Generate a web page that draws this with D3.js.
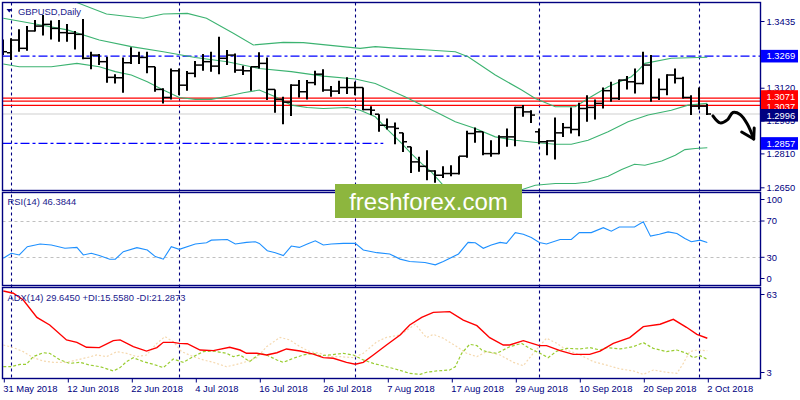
<!DOCTYPE html>
<html><head><meta charset="utf-8">
<script src="https://cdn.jsdelivr.net/npm/d3@7"></script>
<style>body{margin:0;background:#fff}svg{display:block}text{font-family:"Liberation Sans",Arial,sans-serif}</style>
</head><body><svg id="c" width="800" height="400"></svg>
<script>
// ---------- DATA ----------
const symbolTitle = "GBPUSD,Daily";
const dateIdx = [0,8,16,24,32,40,48,56,64,72,80,88];
const dateLabels = ["31 May 2018","12 Jun 2018","22 Jun 2018","4 Jul 2018","16 Jul 2018","26 Jul 2018","7 Aug 2018","17 Aug 2018","29 Aug 2018","10 Sep 2018","20 Sep 2018","2 Oct 2018"];
const monthGridIdx = [1,22,44,67,87];
const priceTicks = [1.3435,1.3120,1.2965,1.2810,1.2650];

const opens  = [1.3298,1.3285,1.3345,1.3306,1.3388,1.3411,1.3419,1.3400,1.3380,1.3377,1.3372,1.3259,1.3274,1.3243,1.3169,1.3167,1.3238,1.3270,1.3263,1.3219,1.3112,1.3074,1.3200,1.3132,1.3188,1.3227,1.3243,1.3222,1.3259,1.3274,1.3203,1.3200,1.3219,1.3235,1.3112,1.3065,1.3052,1.3132,1.3101,1.3144,1.3184,1.3109,1.3104,1.3121,1.3121,1.3121,1.3017,1.2995,1.2943,1.2935,1.2907,1.2841,1.2770,1.2749,1.2727,1.2707,1.2715,1.2715,1.2797,1.2904,1.2912,1.2809,1.2809,1.2888,1.2888,1.3027,1.3006,1.2912,1.2865,1.2869,1.2907,1.2932,1.2923,1.3022,1.3027,1.3046,1.3106,1.3069,1.3156,1.3148,1.3140,1.3227,1.3074,1.3112,1.3180,1.3164,1.3074,1.3033,1.3033];
const highs  = [1.3348,1.3353,1.3396,1.3411,1.3440,1.3463,1.3437,1.3440,1.3421,1.3388,1.3445,1.3290,1.3279,1.3266,1.3184,1.3263,1.3311,1.3290,1.3290,1.3219,1.3117,1.3211,1.3211,1.3199,1.3246,1.3279,1.3290,1.3361,1.3298,1.3282,1.3224,1.3219,1.3287,1.3263,1.3112,1.3077,1.3137,1.3156,1.3156,1.3200,1.3207,1.3128,1.3153,1.3169,1.3148,1.3121,1.3033,1.2995,1.2975,1.2956,1.2907,1.2841,1.2794,1.2825,1.2731,1.2749,1.2754,1.2797,1.2917,1.2932,1.2912,1.2872,1.2896,1.2928,1.3030,1.3038,1.3014,1.2928,1.2872,1.2980,1.2954,1.3027,1.3049,1.3085,1.3065,1.3121,1.3148,1.3159,1.3175,1.3211,1.3290,1.3274,1.3164,1.3184,1.3211,1.3172,1.3085,1.3121,1.3043];
const lows   = [1.3274,1.3251,1.3290,1.3295,1.3385,1.3366,1.3348,1.3337,1.3337,1.3301,1.3255,1.3207,1.3227,1.3144,1.3140,1.3096,1.3232,1.3232,1.3188,1.3101,1.3046,1.3065,1.3085,1.3106,1.3169,1.3200,1.3196,1.3184,1.3227,1.3191,1.3180,1.3106,1.3211,1.3062,1.3002,1.2948,1.2986,1.3074,1.3065,1.3132,1.3101,1.3077,1.3090,1.3090,1.3085,1.3014,1.2991,1.2912,1.2923,1.2853,1.2817,1.2718,1.2723,1.2683,1.2671,1.2694,1.2702,1.2711,1.2790,1.2860,1.2801,1.2794,1.2806,1.2841,1.2844,1.2983,1.2954,1.2853,1.2801,1.2781,1.2888,1.2904,1.2891,1.2959,1.2970,1.3022,1.3054,1.3062,1.3112,1.3093,1.3137,1.3054,1.3062,1.3085,1.3140,1.3069,1.2991,1.3017,1.2991];
const closes = [1.3290,1.3345,1.3306,1.3388,1.3411,1.3419,1.3400,1.3380,1.3377,1.3372,1.3259,1.3274,1.3243,1.3169,1.3167,1.3238,1.3270,1.3263,1.3219,1.3112,1.3074,1.3200,1.3132,1.3188,1.3227,1.3243,1.3222,1.3259,1.3274,1.3203,1.3200,1.3219,1.3235,1.3112,1.3065,1.3052,1.3132,1.3101,1.3144,1.3184,1.3109,1.3104,1.3121,1.3121,1.3121,1.3017,1.3014,1.2943,1.2935,1.2928,1.2865,1.2770,1.2749,1.2727,1.2707,1.2715,1.2715,1.2797,1.2904,1.2912,1.2809,1.2809,1.2888,1.2888,1.3027,1.3006,1.2991,1.2865,1.2869,1.2907,1.2932,1.2923,1.3022,1.3027,1.3046,1.3106,1.3069,1.3156,1.3148,1.3140,1.3227,1.3074,1.3112,1.3180,1.3164,1.3074,1.3033,1.3033,1.2996];

const bbUpIdx = [0,4,8,9.2,12.9,17.5,20,23,25.4,28.75,31.25,35,37.5,44.6,46.5,49.4,53.1,56.5,58.1,61.5,64.8,66.5,69,71.5,73.1,75.6,78.5,79.4,80.2,83.5,88];
const bbUp    = [1.3664,1.3623,1.3537,1.3522,1.3468,1.3448,1.3468,1.3471,1.3448,1.3377,1.3322,1.3334,1.3333,1.3306,1.3314,1.3306,1.3298,1.3290,1.3266,1.3180,1.3109,1.3069,1.3030,1.3030,1.3069,1.3125,1.3172,1.3203,1.3235,1.3259,1.3264];
const bbMidIdx = [0,4,8,12,16,20,24,28,32,36,40,44,46.5,50.2,52.3,54.4,56.5,59,61.5,64,66.9,69,71,73.1,75.6,78.1,80.6,83.5,85.6,88];
const bbMid    = [1.3448,1.3421,1.3393,1.3345,1.3314,1.3290,1.3263,1.3243,1.3211,1.3196,1.3175,1.3161,1.3140,1.3077,1.3038,1.2999,1.2959,1.2928,1.2888,1.2872,1.2860,1.2853,1.2853,1.2872,1.2912,1.2959,1.2991,1.3014,1.3038,1.3046];
const bbLowIdx = [0,2,6,9.2,12,14,16,18,20,22,24,26,28,30,32,34,36,38,40,43,44.6,46.5,48.1,49.8,51,52.3,53.5,54.8,57,60,63,64.8,66.5,69,71.5,73.1,75.6,77.3,78.9,80.2,82.3,84,85.2,86.5,88];
const bbLow    = [1.3232,1.3219,1.3219,1.3235,1.3219,1.3196,1.3180,1.3148,1.3109,1.3074,1.3065,1.3065,1.3080,1.3096,1.3109,1.3077,1.3038,1.3027,1.3022,1.3027,1.3014,1.2983,1.2920,1.2857,1.2809,1.2762,1.2723,1.2667,1.2589,1.2557,1.2589,1.2639,1.2660,1.2668,1.2668,1.2675,1.2702,1.2734,1.2759,1.2754,1.2774,1.2801,1.2828,1.2833,1.2837];

const hLevelsRed = [1.3057,1.3071,1.3037];
const levelHigh = 1.3269;
const levelLow = 1.2857;
const levelLowSolidFrom = 47.5;
const bidPrice = 1.2996;

const rsiTitle = "RSI(14) 46.3844";
const rsiTicks = [100,70,30,0];
const rsiLevels = [70,30];
const rsiIdx = [0,1,2,3,4.6,6,7.7,9.2,10,11,12,13.3,14,15,16.7,18,19,20,21,22,24,25.4,26,28,29,30.4,31.5,32,33,34,35,36,37,38,39,40,41,42.5,44,45,46.7,48.3,49.6,50.8,52.7,54,55,56.9,58.1,59,60,61,62.1,62.9,64,65,66,67,67.9,69.6,71,72,73.5,75,76,77,78.9,80,80.9,82,83.1,84.2,85.2,86,87.1,88];
const rsiVal = [29.0,34.4,32.6,41.7,44.6,43.5,39.9,40.9,32.6,34.4,31.9,27.9,27.9,36.2,40.6,38.0,30.8,27.9,41.7,38.8,44.6,46.0,48.9,49.6,44.6,46.4,47.1,45.3,37.3,35.1,31.9,42.4,40.9,44.6,48.2,43.5,44.6,45.3,45.3,38.0,35.1,33.7,28.0,25.4,24.3,21.7,25.4,33.7,46.4,46.0,39.9,43.5,46.4,45.3,57.2,55.4,51.8,46.4,44.6,49.6,49.6,57.2,57.2,62.7,58.7,63.4,63.4,69.2,53.3,55.4,58.0,56.2,50.7,47.1,48.9,46.4];

const adxTitle = "ADX(14) 29.6450 +DI:15.5580 -DI:21.2873";
const adxTicks = [63,3];
const adxIdx = [0,1.25,2.5,4.2,5.8,7.9,9.2,10.4,12,13.75,14.6,16.25,17.9,19.2,20,21.25,22,23,24.6,26.25,28.3,29.6,30.4,31.7,32.9,34.2,35.4,37.1,38.75,40,41.25,42.9,44,45,46.25,47.9,49.6,50.8,52.3,53.75,55.8,57.5,59.2,60.8,62.5,63.3,65,67,67.9,69.6,71.25,73.3,74.6,76.25,78.3,80,82.1,83.75,85.4,86.7,88];
const adxVal = [61.0,59.5,55.0,43.5,38.4,28.5,26.9,23.6,23.4,28.0,28.5,24.0,21.1,23.4,26.9,26.9,26.2,26.0,21.8,21.4,23.6,21.8,19.6,19.6,18.5,20.0,22.5,21.1,19.1,16.7,16.3,13.6,12.3,13.6,18.5,25.1,31.8,38.4,43.5,46.8,47.3,41.7,38.0,30.0,25.1,25.1,28.0,24.7,24.7,21.4,18.9,18.9,21.1,26.2,30.0,37.3,38.9,42.2,36.9,32.2,29.6];
const pdiIdx = [0,1,2.1,2.9,3.75,5,5.8,7.1,8.3,9.6,10.8,12.1,13.75,14.6,15.4,16.25,17.5,18.75,20,21.25,22.5,23.75,25,26.25,27.9,28.75,29.6,30.8,32.1,32.9,34.2,35,36.25,37.5,38.75,39.6,40.8,42.5,43.75,45,46.25,47.9,49.6,50.8,52.1,52.9,54.2,55.8,56.5,57.3,58.3,59.2,59.8,60.4,61.7,63.3,64.8,65.8,67.1,68.1,69.2,70.4,72.1,73.3,74.6,75.4,77.1,78.75,80,81.25,82.9,84.2,85.4,86.25,87.1,88];
const pdiVal = [10.7,10.7,12.3,12.3,17.4,20.0,19.6,15.2,12.9,13.6,11.8,10.7,7.9,10.1,14.1,16.7,14.1,12.3,10.1,15.8,13.6,17.4,20.7,21.1,19.6,17.4,18.5,14.1,19.6,18.5,15.2,13.6,16.3,18.5,19.6,18.0,18.5,19.6,18.5,15.2,12.9,10.7,8.3,6.3,5.6,7.0,7.9,8.5,10.7,19.6,25.6,24.7,21.8,20.7,19.6,24.0,26.2,22.9,19.6,16.7,21.1,22.9,22.5,23.4,21.8,23.4,22.5,24.0,26.7,22.9,20.7,21.8,19.6,16.7,18.0,15.6];
const mdiIdx = [0,1.25,2.5,3.75,5,6.25,7.9,9.2,10.4,11.7,12.9,14.2,15.4,16.7,17.9,19.2,20.2,21.25,22.3,23.75,25,26.25,27.9,29.2,30.4,31.7,32.9,34.6,35.8,37.1,38.3,39.6,40.8,42.1,43.75,45,46.7,47.9,49.6,51.5,52.9,53.75,55,56.7,57.9,59.2,60.4,62.1,63.75,65,66.25,67.9,69.2,70.4,72.1,73.75,75.4,77.1,78.75,80,81.25,82.9,84.2,85,85.8,86.7,88];
const mdiVal = [25.1,23.4,20.7,16.7,14.5,13.6,13.6,15.2,16.7,18.5,17.4,20.7,19.6,17.4,18.5,26.2,30.7,27.3,20.7,17.4,15.2,13.6,10.7,12.3,14.1,16.7,24.0,30.2,28.5,24.0,20.7,19.6,17.4,17.4,16.7,19.6,27.3,30.2,31.8,38.9,30.0,32.2,29.6,24.0,19.6,17.4,20.7,18.5,13.6,11.4,19.6,29.6,26.2,21.8,18.5,14.1,11.8,9.2,7.9,5.6,8.5,7.0,6.3,12.9,20.7,21.8,21.3];

const arrowIdx   = [88.7,89.6,90.5,91.2,92.1,93.0,93.8];
const arrowPrice = [1.2987,1.2954,1.2968,1.3003,1.2994,1.2949,1.2878];
const watermark = "freshforex.com";

// ---------- DRAW ----------
const svg = d3.select('#c');
const NAVY = '#000080';
const FS = 9.4;
const L = 2.5, R = 760.5;
const mainT = 2.5, mainB = 190.5, rsiT = 192.5, rsiB = 285.5, adxT = 287.5, adxB = 378.5;

const x  = d3.scaleLinear().domain([0, 88]).range([3.3, 707.3]);
const y  = d3.scaleLinear().domain([1.2650, 1.3435]).range([187.3, 21]);
const yr = d3.scaleLinear().domain([30, 70]).range([257.3, 221]);
const ya = d3.scaleLinear().domain([3, 63]).range([378.3, 288]);

const defs = svg.append('defs');
defs.append('clipPath').attr('id','clipMain').append('rect')
  .attr('x', L+0.5).attr('y', mainT+0.5).attr('width', R-L-1).attr('height', mainB-mainT-1);
defs.append('clipPath').attr('id','clipRsi').append('rect')
  .attr('x', L+0.5).attr('y', rsiT+0.5).attr('width', R-L-1).attr('height', rsiB-rsiT-1);
defs.append('clipPath').attr('id','clipAdx').append('rect')
  .attr('x', L+0.5).attr('y', adxT+0.5).attr('width', R-L-1).attr('height', adxB-adxT-1);
const f = defs.append('filter').attr('id','shadow').attr('x','-5%').attr('y','-200%').attr('width','110%').attr('height','500%');
f.append('feGaussianBlur').attr('in','SourceAlpha').attr('stdDeviation',2.2).attr('result','b');
f.append('feOffset').attr('in','b').attr('dy',3.5).attr('result','o');
f.append('feComponentTransfer').attr('in','o').attr('result','s').append('feFuncA').attr('type','linear').attr('slope',0.45);
const fm = f.append('feMerge'); fm.append('feMergeNode').attr('in','s'); fm.append('feMergeNode').attr('in','SourceGraphic');

// vertical month grid
svg.append('g').selectAll('line').data(monthGridIdx).join('line')
  .attr('x1', d => Math.round(x(d))+0.5).attr('x2', d => Math.round(x(d))+0.5)
  .attr('y1', mainT).attr('y2', adxB)
  .attr('stroke', NAVY).attr('stroke-width', 1.1).attr('stroke-dasharray', '3,3');

const gm = svg.append('g').attr('clip-path','url(#clipMain)');

// bid line
gm.append('line').attr('x1', L).attr('x2', R).attr('y1', y(bidPrice)).attr('y2', y(bidPrice))
  .attr('stroke', '#cfcfcf').attr('stroke-width', 1);

// dash-dot levels
gm.append('line').attr('x1', L).attr('x2', R).attr('y1', y(levelHigh)).attr('y2', y(levelHigh))
  .attr('stroke', '#0000ff').attr('stroke-width', 1.2).attr('stroke-dasharray', '9,3,3,3');
gm.append('line').attr('x1', L).attr('x2', x(levelLowSolidFrom)).attr('y1', y(levelLow)).attr('y2', y(levelLow))
  .attr('stroke', '#0000ff').attr('stroke-width', 1.2).attr('stroke-dasharray', '9,3,3,3');
// solid part of the low level with shadow
gm.append('line').attr('x1', x(levelLowSolidFrom)).attr('x2', R).attr('y1', y(levelLow)).attr('y2', y(levelLow))
  .attr('stroke', '#0000ff').attr('stroke-width', 1.6).attr('filter','url(#shadow)');

// red levels
gm.selectAll('line.red').data(hLevelsRed).join('line').attr('class','red')
  .attr('x1', L).attr('x2', R).attr('y1', d => y(d)).attr('y2', d => y(d))
  .attr('stroke', '#ff0000').attr('stroke-width', 1.2);

// Bollinger bands
const bbLine = (idx) => d3.line().x((d,i) => x(idx[i])).y(d => y(d));
[[bbUpIdx,bbUp],[bbMidIdx,bbMid],[bbLowIdx,bbLow]].forEach(([idx, vals]) => {
  gm.append('path').datum(vals).attr('d', bbLine(idx)).attr('fill','none')
    .attr('stroke', '#3cb371').attr('stroke-width', 1.1);
});

// OHLC bars
const bi = d3.range(opens.length);
gm.selectAll('line.stem').data(bi).join('line').attr('class','stem')
  .attr('x1', i => Math.round(x(i))).attr('x2', i => Math.round(x(i)))
  .attr('y1', i => y(highs[i])).attr('y2', i => y(lows[i]))
  .attr('stroke', '#000').attr('stroke-width', 2);
gm.selectAll('line.open').data(bi).join('line').attr('class','open')
  .attr('x1', i => Math.round(x(i))-4).attr('x2', i => Math.round(x(i)))
  .attr('y1', i => y(opens[i])).attr('y2', i => y(opens[i]))
  .attr('stroke', '#000').attr('stroke-width', 1.5);
gm.selectAll('line.close').data(bi).join('line').attr('class','close')
  .attr('x1', i => Math.round(x(i))).attr('x2', i => Math.round(x(i))+4)
  .attr('y1', i => y(closes[i])).attr('y2', i => y(closes[i]))
  .attr('stroke', '#000').attr('stroke-width', 1.5);

// RSI
const gr = svg.append('g').attr('clip-path','url(#clipRsi)');
gr.selectAll('line.lv').data(rsiLevels).join('line').attr('class','lv')
  .attr('x1', L).attr('x2', R).attr('y1', d => Math.round(yr(d))+0.5).attr('y2', d => Math.round(yr(d))+0.5)
  .attr('stroke', '#c0c0c0').attr('stroke-width', 1).attr('stroke-dasharray','3,3');
gr.append('path').datum(rsiVal)
  .attr('d', d3.line().x((d,i) => x(rsiIdx[i])).y(d => yr(d)))
  .attr('fill','none').attr('stroke','#1e90ff').attr('stroke-width',1.1);

// ADX
const ga = svg.append('g').attr('clip-path','url(#clipAdx)');
ga.append('path').datum(mdiVal)
  .attr('d', d3.line().x((d,i) => x(mdiIdx[i])).y(d => ya(d)))
  .attr('fill','none').attr('stroke','#f5d9b0').attr('stroke-width',1.2).attr('stroke-dasharray','2,2');
ga.append('path').datum(pdiVal)
  .attr('d', d3.line().x((d,i) => x(pdiIdx[i])).y(d => ya(d)))
  .attr('fill','none').attr('stroke','#9acd32').attr('stroke-width',1.2).attr('stroke-dasharray','3,2');
ga.append('path').datum(adxVal)
  .attr('d', d3.line().x((d,i) => x(adxIdx[i])).y(d => ya(d)))
  .attr('fill','none').attr('stroke','#ff0000').attr('stroke-width',1.4);

// panel borders
const bord = svg.append('g').attr('fill','none').attr('stroke', NAVY).attr('stroke-width', 1.4);
[[mainT,mainB],[rsiT,rsiB],[adxT,adxB]].forEach(([t,b]) => {
  bord.append('rect').attr('x', L).attr('y', t).attr('width', R-L).attr('height', b-t);
});

// time axis
const xAxis = d3.axisBottom(x).tickValues(dateIdx).tickFormat((d,i) => dateLabels[i]).tickSize(4).tickPadding(3);
const gx = svg.append('g').attr('transform', `translate(0,${adxB})`).call(xAxis);
gx.select('.domain').remove();
gx.selectAll('.tick line').attr('stroke', NAVY).attr('transform','translate(0.5,0)');
gx.selectAll('.tick text').attr('fill', NAVY).attr('font-size', FS).attr('font-family','"Liberation Sans",Arial,sans-serif')
  .attr('text-anchor','start').attr('dx', -0.5);

// price axis
const yAxis = d3.axisRight(y).tickValues(priceTicks).tickFormat(d3.format('.4f')).tickSize(4).tickPadding(2);
const gy = svg.append('g').attr('transform', `translate(${R},0)`).call(yAxis);
gy.select('.domain').remove();
gy.selectAll('.tick line').attr('stroke', NAVY);
gy.selectAll('.tick text').attr('fill', NAVY).attr('font-size', FS).attr('font-family','"Liberation Sans",Arial,sans-serif');

// RSI axis labels (kept inside panel like the terminal does)
const rsiLabelY = v => Math.max(rsiT+7, Math.min(rsiB-7, yr(v)));
svg.append('g').selectAll('g').data(rsiTicks).join('g').each(function(v){
  const g = d3.select(this), yy = rsiLabelY(v);
  g.append('line').attr('x1', R).attr('x2', R+4).attr('y1', yy).attr('y2', yy).attr('stroke', NAVY);
  g.append('text').attr('x', R+6).attr('y', yy).attr('dy','0.35em').attr('fill', NAVY).attr('font-size', FS).text(v);
});
const adxLabelY = v => Math.max(adxT+7, Math.min(adxB-6, ya(v)));
svg.append('g').selectAll('g').data(adxTicks).join('g').each(function(v){
  const g = d3.select(this), yy = adxLabelY(v);
  g.append('line').attr('x1', R).attr('x2', R+4).attr('y1', yy).attr('y2', yy).attr('stroke', NAVY);
  g.append('text').attr('x', R+6).attr('y', yy).attr('dy','0.35em').attr('fill', NAVY).attr('font-size', FS).text(v);
});

// price boxes (the middle red level's box is hidden under its neighbours, so it carries no text)
const boxes = [
  {p: hLevelsRed[0], c:'#ff0000', shift: 0, label: false},
  {p: hLevelsRed[1], c:'#ff0000', shift: -1.6, label: true},
  {p: hLevelsRed[2], c:'#ff0000', shift: 1.0, label: true},
  {p: bidPrice, c:'#000080', shift: 1.3, label: true},
  {p: levelHigh, c:'#0000ff', shift: 0, label: true},
  {p: levelLow, c:'#0000ff', shift: 0, label: true}
];
const gb = svg.append('g');
boxes.forEach(b => {
  const yy = y(b.p) + b.shift;
  gb.append('rect').attr('x', R+0.5).attr('y', yy-6.3).attr('width', 37).attr('height', 12.6).attr('fill', b.c);
  if (b.label) gb.append('text').attr('x', R+6).attr('y', yy).attr('dy','0.35em').attr('fill','#fff').attr('font-size', FS)
    .text(d3.format('.4f')(b.p));
});

// titles
svg.append('path').attr('d', `M6.5,9 L12,9 L9.25,12.5 Z`).attr('fill', NAVY);
svg.append('text').attr('x', 18).attr('y', 14.5).attr('fill', '#1a1a8c').attr('font-size', FS).text(symbolTitle);
svg.append('text').attr('x', 7.5).attr('y', 204.5).attr('fill', '#1a1a8c').attr('font-size', FS).text(rsiTitle);
svg.append('text').attr('x', 7.5).attr('y', 300.5).attr('fill', '#1a1a8c').attr('font-size', FS).text(adxTitle);

// hand-drawn arrow
const ap = arrowIdx.map((d,i) => [x(d), y(arrowPrice[i])]);
svg.append('path').datum(ap).attr('d', d3.line().curve(d3.curveCatmullRom)).attr('fill','none')
  .attr('stroke','#000').attr('stroke-width',3).attr('stroke-linecap','round').attr('stroke-linejoin','round');
const tip = ap[ap.length-1];
svg.append('path').attr('d', `M${tip[0]-12},${tip[1]-7} L${tip[0]},${tip[1]} L${tip[0]+0.5},${tip[1]-11}`)
  .attr('fill','none').attr('stroke','#000').attr('stroke-width',3).attr('stroke-linecap','round').attr('stroke-linejoin','round');

// watermark
svg.append('rect').attr('x', 335).attr('y', 184).attr('width', 187).attr('height', 34).attr('fill', '#8db63e');
svg.append('text').attr('x', 428.5).attr('y', 210).attr('text-anchor','middle').attr('fill','#fff')
  .attr('font-family','"Open Sans",sans-serif').attr('font-size', 24).text(watermark);
</script></body></html>
